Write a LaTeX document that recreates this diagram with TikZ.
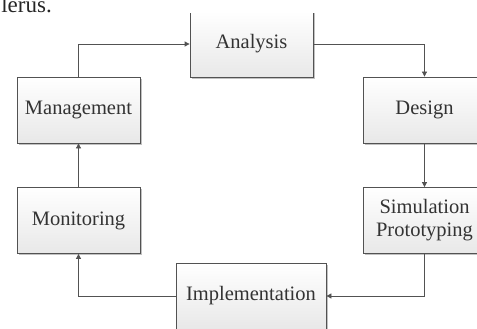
\documentclass[tikz,border=0pt]{standalone}
\usepackage{fontspec}
\setmainfont{Liberation Serif}
\usetikzlibrary{arrows.meta,shadows}
\tikzset{
  box/.style={draw=black!68, line width=0.8pt, top color=white, bottom color=black!9,
    minimum width=123pt, minimum height=66pt, inner sep=0pt, align=center,
    font=\fontsize{20.5}{23}\selectfont, text=black!80,
    drop shadow={shadow xshift=1.6pt, shadow yshift=-1.6pt, fill=black!30, opacity=0.8}},
  arr/.style={draw=black!68, line width=0.8pt, -{Triangle[length=5pt,width=5pt]}}
}
\begin{document}
\begin{tikzpicture}[x=1pt,y=-1pt]
\useasboundingbox (0,0) rectangle (477,329);
\node[anchor=base east, inner sep=0pt, font=\fontsize{23}{25}\selectfont, text=black!85] (frag) at (52,12.3) {lerus.};
\begin{scope}
  \clip (0,13.5) rectangle (477,340);
  \node[box] (ana) at (251.5,44) {Analysis};
\end{scope}
\node[box] (des) at (424.5,110) {Design};
\node[box] (sim) at (424.5,220.5) {Simulation\\Prototyping};
\node[box, minimum width=150pt] (imp) at (251,296) {Implementation};
\node[box] (mon) at (78.5,220.5) {Monitoring};
\node[box] (man) at (78.5,110) {Management};
\draw[arr] (man.north) |- (ana.west);
\draw[arr] (ana.east) -| (des.north);
\draw[arr] (des) -- (sim);
\draw[arr] (sim.south) |- (imp.east);
\draw[arr] (imp.west) -| (mon.south);
\draw[arr] (mon) -- (man);
\end{tikzpicture}
\end{document}
